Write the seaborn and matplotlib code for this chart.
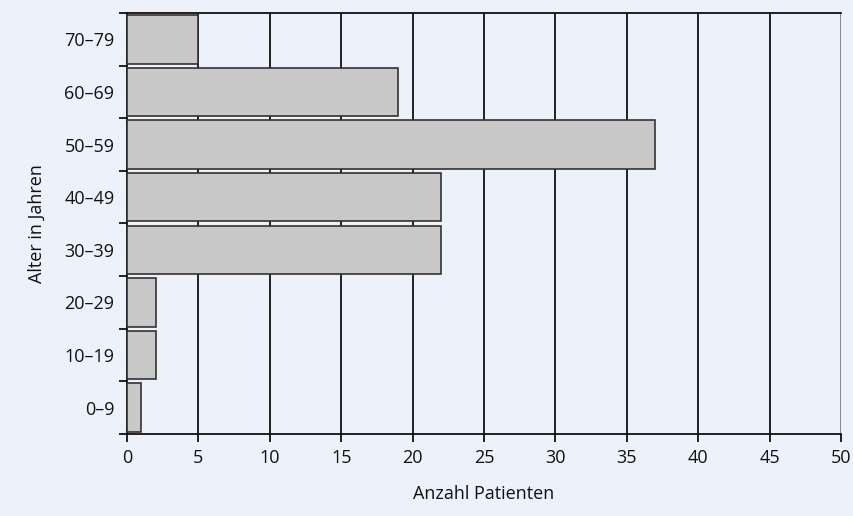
import matplotlib
matplotlib.use("Agg")
import matplotlib.pyplot as plt
import seaborn as sns
import pandas as pd
import numpy as np

categories = ["0–9", "10–19", "20–29", "30–39", "40–49", "50–59", "60–69", "70–79"]
values = [1, 2, 2, 22, 22, 37, 19, 5]
xticks = [0, 5, 10, 15, 20, 25, 30, 35, 40, 45, 50]

sns.set_theme(style="white")
plt.rcParams['font.family'] = ['Open Sans', 'DejaVu Sans']
plt.rcParams['text.color'] = '#111111'
plt.rcParams['axes.labelcolor'] = '#111111'
plt.rcParams['xtick.color'] = '#111111'
plt.rcParams['ytick.color'] = '#111111'

bg = "#edf2fa"
fs = 13
fig = plt.figure(figsize=(8.54, 5.16), dpi=100, facecolor=bg)
ax = fig.add_axes([0.1487, 0.159, 0.8361, 0.8158])
ax.set_facecolor(bg)

order = categories[::-1]
df = pd.DataFrame({"Alter": categories, "Anzahl": values})
sns.barplot(data=df, y="Alter", x="Anzahl", order=order, orient="h",
            color="#c8c8c8", edgecolor="#333333", linewidth=1.2,
            width=0.92, saturation=1, ax=ax, zorder=3)

ax.set_xlim(0, 50)
ax.set_ylim(len(categories) - 0.5, -0.5)
ax.set_xticks(xticks)
ax.set_xticklabels([str(v) for v in xticks], fontsize=fs)
for v in xticks[1:-1]:
    ax.axvline(v, color="#111111", lw=1.3, zorder=1)
ax.axvline(50, color="#808080", lw=1.3, zorder=1)

ax.tick_params(axis="y", which="major", left=False, length=0, labelsize=fs, pad=9)
ax.set_yticks(np.arange(-0.5, len(categories), 1), minor=True)
ax.tick_params(axis="y", which="minor", left=True, length=6, width=1.3, color="#111111", direction="out")
ax.tick_params(axis="x", which="major", bottom=True, length=6, width=1.3, color="#111111", direction="out", pad=5)

for s in ["left", "bottom", "top"]:
    ax.spines[s].set_visible(True)
    ax.spines[s].set_color("#111111")
    ax.spines[s].set_linewidth(1.3)
ax.spines["right"].set_visible(False)

ax.set_xlabel("Anzahl Patienten", fontsize=fs, labelpad=13)
ax.set_ylabel("Alter in Jahren", fontsize=fs, labelpad=13)

fig.savefig("out.png", dpi=100, facecolor=bg)
